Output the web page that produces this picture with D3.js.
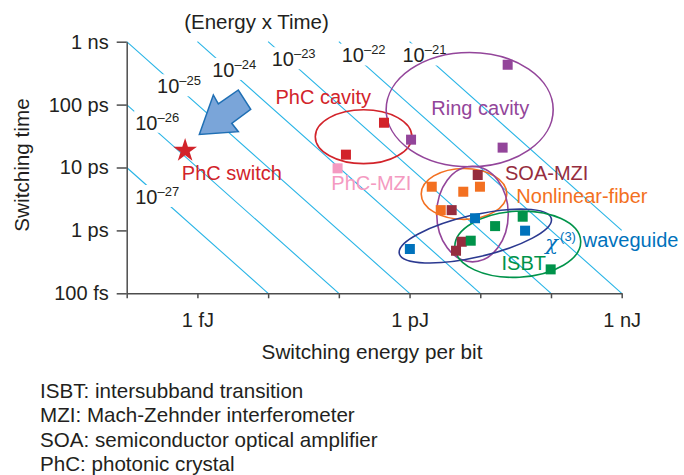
<!DOCTYPE html>
<html>
<head>
<meta charset="utf-8">
<script src="https://cdn.jsdelivr.net/npm/d3@7"></script>
<style>
  body { margin: 0; background: #fff; }
  svg text { font-family: "Liberation Sans", Arial, Helvetica, sans-serif; fill: #231f20; }
</style>
</head>
<body>
<div id="chart"></div>
<script>
// values: [switching energy (J), switching time (s)]
var phcSwitch    = [[6.7e-16, 1.86e-11]];
var phcCavity    = [[4.35e-13, 5.15e-11], [1.26e-13, 1.6e-11]];
var phcMzi       = [[9.6e-14, 9.7e-12]];
var ringCavity   = [[1.05e-12, 2.77e-11], [2.44e-11, 4.3e-10], [2.07e-11, 2.07e-11]];
var soaMzi       = [[9.2e-12, 7.6e-12], [3.94e-12, 2.1e-12], [5.47e-12, 6.6e-13], [4.54e-12, 4.75e-13]];
var fiber        = [[2.06e-12, 4.95e-12], [5.75e-12, 4.12e-12], [9.9e-12, 4.95e-12], [2.76e-12, 2.1e-12]];
var chi3Guide    = [[8.43e-12, 1.56e-12], [4.3e-11, 9.9e-13], [1.01e-12, 5.06e-13]];
var isbt         = [[1.62e-11, 1.17e-12], [3.98e-11, 1.65e-12], [7.33e-12, 6.86e-13], [9.9e-11, 2.4e-13]];

// energy x time iso-lines (J*s, as powers of ten)
var productExp = [-27, -26, -25, -24, -23, -22, -21];
// label anchors for those lines, [log10 E, log10 t] of the "10" baseline start
var productLabelAt = [[-15.88, -11.58], [-15.88, -10.40], [-15.57, -9.82], [-14.79, -9.56],
                      [-13.95, -9.39], [-12.96, -9.33], [-12.10, -9.33]];

var xTicks = [1e-16, 1e-15, 1e-14, 1e-13, 1e-12, 1e-11, 1e-10, 1e-9];
var xTickLabels = ["", "1 fJ", "", "", "1 pJ", "", "", "1 nJ"];
var yTicks = [1e-13, 1e-12, 1e-11, 1e-10, 1e-9];
var yTickLabels = ["100 fs", "1 ps", "10 ps", "100 ps", "1 ns"];

// group outlines: centre [log10 E, log10 t], half widths in decades, tilt in degrees
var rings = [
  {name: "phcCavity", c: [-12.65, -10.51], r: [0.683, 0.429], tilt: 0},
  {name: "ring",      c: [-11.15, -10.08], r: [1.181, 0.909], tilt: 0},
  {name: "fiber",     c: [-11.23, -11.42], r: [0.605, 0.405], tilt: 0},
  {name: "soa",       c: [-11.11, -11.74], r: [0.506, 0.760], tilt: 0},
  {name: "chi3",      c: [-11.07, -12.09], r: [1.103, 0.334], tilt: -13},
  {name: "isbt",      c: [-10.47, -12.22], r: [0.891, 0.525], tilt: -3}
];

var groupLabels = [
  {text: "PhC cavity",      at: [-13.22, -9.88],  anchor: "middle", color: "#d2232a"},
  {text: "Ring cavity",     at: [-11.00, -10.06], anchor: "middle", color: "#93459a"},
  {text: "PhC-MZI",         at: [-12.54, -11.25], anchor: "middle", color: "#f49ac1"},
  {text: "SOA-MZI",         at: [-10.65, -11.09], anchor: "start",  color: "#962d3e"},
  {text: "Nonlinear-fiber", at: [-10.49, -11.45], anchor: "start",  color: "#f37021"},
  {text: "waveguide",       at: [-9.55, -12.15],  anchor: "start",  color: "#0072bc"},
  {text: "ISBT",            at: [-10.70, -12.52], anchor: "start",  color: "#00934a"},
  {text: "PhC switch",      at: [-15.22, -11.08], anchor: "start",  color: "#d2232a"}
];

var notes = ["ISBT: intersubband transition", "MZI: Mach-Zehnder interferometer",
             "SOA: semiconductor optical amplifier", "PhC: photonic crystal"];

var width = 684, height = 475;
var svg = d3.select("#chart").append("svg").attr("width", width).attr("height", height);

var x = d3.scaleLog().domain([1e-16, 1e-9]).range([126.7, 621.7]);
var y = d3.scaleLog().domain([1e-13, 1e-9]).range([293.3, 41.7]);
var px = function (le) { return x(Math.pow(10, le)); };
var py = function (lt) { return y(Math.pow(10, lt)); };

// iso-lines E*t = 10^k, clipped to the plot
var line = d3.line().x(function (d) { return x(d[0]); }).y(function (d) { return y(d[1]); });
productExp.forEach(function (k) {
  var e0 = Math.max(-16, k + 9), e1 = Math.min(-9, k + 13);
  svg.append("path")
    .attr("d", line([[Math.pow(10, e0), Math.pow(10, k - e0)], [Math.pow(10, e1), Math.pow(10, k - e1)]]))
    .attr("fill", "none").attr("stroke", "#27b4e6").attr("stroke-width", 1.1);
});

// their labels, knocked out of the lines
productExp.forEach(function (k, i) {
  var g = svg.append("g");
  var t = g.append("text").attr("x", px(productLabelAt[i][0])).attr("y", py(productLabelAt[i][1]))
    .style("font-size", "20px");
  t.append("tspan").text("10");
  t.append("tspan").attr("dy", -8).style("font-size", "13px").text("\u2013" + (-k));
  var b = t.node().getBBox();
  g.insert("rect", "text").attr("x", b.x - 1).attr("y", b.y + 1).attr("width", b.width + 2)
    .attr("height", b.height - 2).attr("fill", "#fff");
});

svg.append("text").attr("x", 256.5).attr("y", 29).attr("text-anchor", "middle")
  .style("font-size", "20.5px").text("(Energy x Time)");

// axes
var xAxis = d3.axisBottom(x).tickValues(xTicks).tickSize(5).tickSizeOuter(0).tickPadding(14.5)
  .tickFormat(function (d, i) { return xTickLabels[i]; });
var yAxis = d3.axisLeft(y).tickValues(yTicks).tickSize(10).tickSizeOuter(0).tickPadding(8)
  .tickFormat(function (d, i) { return yTickLabels[i]; });

var gx = svg.append("g").attr("transform", "translate(0," + y.range()[0] + ")").call(xAxis);
var gy = svg.append("g").attr("transform", "translate(" + x.range()[0] + ",0)").call(yAxis);
[gx, gy].forEach(function (g) {
  g.selectAll("path, line").attr("stroke", "#4d4d4d").attr("stroke-width", 1.5);
  g.selectAll("text").style("font-size", "20px").style("font-family", "\"Liberation Sans\", Arial, sans-serif")
    .attr("fill", "#231f20");
});

svg.append("text").attr("x", 372).attr("y", 358.5).attr("text-anchor", "middle")
  .style("font-size", "20.7px").text("Switching energy per bit");
svg.append("text").attr("transform", "translate(29,165) rotate(-90)").attr("text-anchor", "middle")
  .style("font-size", "20.7px").text("Switching time");

// group outlines
var ringColor = {phcCavity: "#d2232a", ring: "#93459a", fiber: "#f37021", soa: "#93459a",
                 chi3: "#2b3990", isbt: "#00934a"};
rings.forEach(function (r) {
  var cx = px(r.c[0]), cy = py(r.c[1]);
  svg.append("ellipse").attr("cx", cx).attr("cy", cy)
    .attr("rx", px(r.c[0] + r.r[0]) - cx).attr("ry", cy - py(r.c[1] + r.r[1]))
    .attr("transform", "rotate(" + r.tilt + "," + cx + "," + cy + ")")
    .attr("fill", "none").attr("stroke", ringColor[r.name]).attr("stroke-width", 1.6);
});

// square markers
var series = [
  {data: phcCavity, color: "#d2232a"},
  {data: phcMzi, color: "#f49ac1"},
  {data: ringCavity, color: "#93459a"},
  {data: fiber, color: "#f37021"},
  {data: soaMzi, color: "#962d3e"},
  {data: chi3Guide, color: "#0072bc"},
  {data: isbt, color: "#00934a"}
];
var sq = 10;
series.forEach(function (s) {
  svg.selectAll(null).data(s.data).enter().append("rect")
    .attr("x", function (d) { return x(d[0]) - sq / 2; })
    .attr("y", function (d) { return y(d[1]) - sq / 2; })
    .attr("width", sq).attr("height", sq).attr("fill", s.color);
});

// star for the PhC switch
svg.selectAll(null).data(phcSwitch).enter().append("path")
  .attr("d", d3.symbol(d3.symbolStar).size(175))
  .attr("transform", function (d) { return "translate(" + x(d[0]) + "," + y(d[1]) + ")"; })
  .attr("fill", "#d2232a");

// group labels
groupLabels.forEach(function (l) {
  svg.append("text").attr("x", px(l.at[0])).attr("y", py(l.at[1])).attr("dy", "0.35em")
    .attr("text-anchor", l.anchor).style("font-size", "20px").style("fill", l.color).text(l.text);
});
// chi(3) mark in front of "waveguide"
var chi = svg.append("text").attr("x", px(-10.08)).attr("y", py(-12.23)).attr("dy", "0.35em")
  .style("fill", "#0072bc");
chi.append("tspan").style("font-size", "21px").style("font-style", "italic")
  .style("font-family", "\"DejaVu Serif\", serif").text("\u03c7");
chi.append("tspan").attr("dy", -9).attr("dx", 2).style("font-size", "13px").text("(3)");

// big arrow pointing at the PhC switch corner
var tip = [px(-14.973), py(-10.475)];
var arrow = [[0, 0], [14, -39.5], [19, -30.5], [39, -44.5], [51.4, -25.2], [32.4, -11.2], [39, -2.8]];
svg.append("polygon")
  .attr("points", arrow.map(function (p) { return (tip[0] + p[0]) + "," + (tip[1] + p[1]); }).join(" "))
  .attr("fill", "#7aa5d9").attr("stroke", "#1f6fb4").attr("stroke-width", 1.5)
  .attr("stroke-linejoin", "miter");

// abbreviations
notes.forEach(function (n, i) {
  svg.append("text").attr("x", 40).attr("y", 398 + i * 24.4).style("font-size", "20.6px").text(n);
});
</script>
</body>
</html>
